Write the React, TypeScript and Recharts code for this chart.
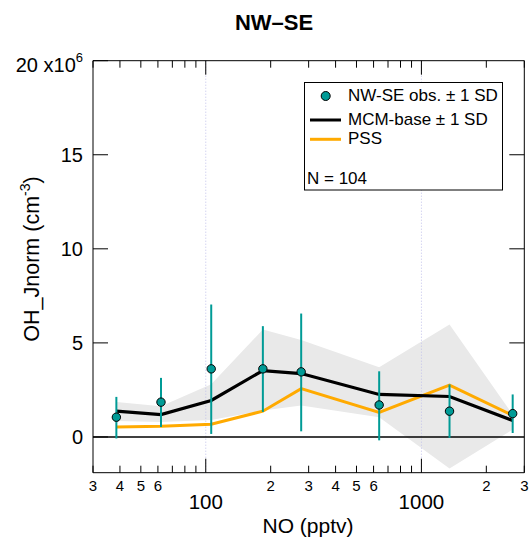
import React from 'react'
import {
  ComposedChart,
  Area,
  Line,
  Scatter,
  ErrorBar,
  XAxis,
  YAxis,
  ReferenceLine,
} from 'recharts'

const FONT = 'Liberation Sans, Arial, Helvetica, sans-serif'
const TEAL = '#009b96'
const ORANGE = '#ffaa00'

// NO bin centres (pptv)
const noValues = [38.5, 62, 106, 184, 277, 637, 1350, 2650]
// observed OH (x10^6 cm-3) and ±1 SD ends
const obs = [1.05, 1.85, 3.62, 3.62, 3.46, 1.7, 1.37, 1.24]
const obsLow = [-0.08, 0.53, 0.16, 1.33, 0.3, -0.18, -0.05, 0.21]
const obsHigh = [2.13, 3.14, 7.04, 5.89, 6.56, 3.49, 2.79, 2.26]
// MCM-base and its ±1 SD band
const mcm = [1.37, 1.19, 1.94, 3.53, 3.37, 2.26, 2.15, 0.87]
const mcmLow = [0.85, 0.8, 0.9, 1.4, 1.67, 1.05, -1.68, 0.39]
const mcmHigh = [1.86, 1.63, 2.8, 5.71, 5.15, 3.71, 5.98, 1.19]
// PSS
const pss = [0.53, 0.57, 0.68, 1.37, 2.57, 1.31, 2.75, 1.15]

const xTicks = [30, 40, 50, 60, 70, 80, 90, 100, 200, 300, 400, 500, 600, 700, 800, 900, 1000, 2000, 3000]
const xMinorLabels: Record<number, string> = {
  30: '3', 40: '4', 50: '5', 60: '6', 200: '2', 300: '3', 400: '4', 500: '5', 600: '6', 2000: '2', 3000: '3',
}
const xMajor = [100, 1000]
const yTicks = [0, 5, 10, 15, 20]
const yTicksRight = [5, 10, 15]

const data = noValues.map((no, i) => ({
  no,
  obs: obs[i],
  obsErr: [obs[i] - obsLow[i], obsHigh[i] - obs[i]],
  mcm: mcm[i],
  band: [mcmLow[i], mcmHigh[i]],
  pss: pss[i],
}))

const BottomTick = (props: any) => {
  const { x, y, payload } = props
  const v = payload.value
  const major = xMajor.includes(v)
  return (
    <g>
      <line x1={x} x2={x} y1={y} y2={y - (major ? 14 : 7)} stroke="#000" strokeWidth={1} />
      {xMinorLabels[v] && (
        <text x={x} y={y + 18.5} textAnchor="middle" fontSize={15} fontFamily={FONT} fill="#000">
          {xMinorLabels[v]}
        </text>
      )}
      {major && (
        <text x={x} y={y + 36.5} textAnchor="middle" fontSize={20.5} fontFamily={FONT} fill="#000">
          {v}
        </text>
      )}
    </g>
  )
}

const TopTick = (props: any) => {
  const { x, y, payload } = props
  const major = xMajor.includes(payload.value)
  return <line x1={x} x2={x} y1={y} y2={y + (major ? 14 : 7)} stroke="#000" strokeWidth={1} />
}

const LeftTick = (props: any) => {
  const { x, y, payload } = props
  const v = payload.value
  return (
    <g>
      <line x1={x} x2={x + 15} y1={y} y2={y} stroke="#000" strokeWidth={1} />
      {v === 20 ? (
        <text x={x - 10} y={y + 11.5} textAnchor="end" fontSize={20} fontFamily={FONT} fill="#000">
          20 x10<tspan dy={-10} fontSize={13}>6</tspan>
        </text>
      ) : (
        <text x={x - 10} y={y + 7} textAnchor="end" fontSize={20} fontFamily={FONT} fill="#000">
          {v}
        </text>
      )}
    </g>
  )
}

const RightTick = (props: any) => {
  const { x, y } = props
  return <line x1={x} x2={x - 15} y1={y} y2={y} stroke="#000" strokeWidth={1} />
}

const Dot = (props: any) => {
  const { cx, cy } = props
  return <circle cx={cx} cy={cy} r={4.2} fill={TEAL} stroke="#000" strokeWidth={1} />
}

export default function App() {
  return (
    <div style={{ position: 'absolute', left: 0, top: 0, width: 532, height: 546, background: '#fff' }}>
      <ComposedChart
        data={data}
        width={532}
        height={546}
        margin={{ top: 59.7, left: 92, right: 6.7, bottom: 72.3 }}
      >
        <XAxis
          dataKey="no"
          type="number"
          scale="log"
          domain={[30, 3000]}
          allowDataOverflow
          ticks={xTicks}
          interval={0}
          height={1}
          tickSize={0}
          tickMargin={0}
          tickLine={false}
          axisLine={{ stroke: '#000', strokeWidth: 1 }}
          tick={<BottomTick />}
        />
        <XAxis
          xAxisId="top"
          orientation="top"
          dataKey="no"
          type="number"
          scale="log"
          domain={[30, 3000]}
          allowDataOverflow
          ticks={xTicks}
          interval={0}
          height={1}
          tickSize={0}
          tickMargin={0}
          tickLine={false}
          axisLine={{ stroke: '#000', strokeWidth: 1 }}
          tick={<TopTick />}
        />
        <YAxis
          type="number"
          domain={[-1.9, 20]}
          allowDataOverflow
          ticks={yTicks}
          interval={0}
          width={1}
          tickSize={0}
          tickMargin={0}
          tickLine={false}
          axisLine={{ stroke: '#000', strokeWidth: 1 }}
          tick={<LeftTick />}
        />
        <YAxis
          yAxisId="right"
          orientation="right"
          type="number"
          domain={[-1.9, 20]}
          allowDataOverflow
          ticks={yTicksRight}
          interval={0}
          width={1}
          tickSize={0}
          tickMargin={0}
          tickLine={false}
          axisLine={{ stroke: '#000', strokeWidth: 1 }}
          tick={<RightTick />}
        />
        <Area
          dataKey="band"
          type="linear"
          fill="#e9e9e9"
          fillOpacity={1}
          stroke="none"
          isAnimationActive={false}
        />
        <ReferenceLine x={100} stroke="#c0c0ea" strokeDasharray="1 2" />
        <ReferenceLine x={1000} stroke="#c0c0ea" strokeDasharray="1 2" />
        <ReferenceLine y={0} stroke="#000" strokeWidth={1.5} />
        <Line dataKey="pss" type="linear" stroke={ORANGE} strokeWidth={3} dot={false} isAnimationActive={false} />
        <Line dataKey="mcm" type="linear" stroke="#000" strokeWidth={3.2} dot={false} isAnimationActive={false} />
        <Scatter dataKey="obs" fill={TEAL} shape={<Dot />} isAnimationActive={false}>
          <ErrorBar dataKey="obsErr" direction="y" width={0} stroke={TEAL} strokeWidth={2} />
        </Scatter>
      </ComposedChart>
      <svg
        width={532}
        height={546}
        style={{ position: 'absolute', left: 0, top: 0, pointerEvents: 'none' }}
        fontFamily={FONT}
      >
        <text x={274} y={29.5} textAnchor="middle" fontSize={22} fontWeight="bold" fill="#000">
          NW–SE
        </text>
        <text transform="translate(38.5, 259) rotate(-90)" textAnchor="middle" fontSize={21.5} fill="#000">
          OH_Jnorm (cm<tspan dy={-9} fontSize={14}>-3</tspan><tspan dy={9}>)</tspan>
        </text>
        <text x={308} y={532.7} textAnchor="middle" fontSize={21} fill="#000">
          NO (pptv)
        </text>
        <rect x={304.5} y={82.5} width={198} height={107.5} fill="#fff" stroke="#000" strokeWidth={1} />
        <circle cx={325.7} cy={96} r={4.5} fill={TEAL} stroke="#000" strokeWidth={1} />
        <text x={348} y={101.3} fontSize={17} fill="#000">NW-SE obs. ± 1 SD</text>
        <line x1={310} x2={341} y1={120} y2={120} stroke="#000" strokeWidth={3} />
        <text x={348} y={125} fontSize={17} fill="#000">MCM-base ± 1 SD</text>
        <line x1={310} x2={341} y1={139.3} y2={139.3} stroke={ORANGE} strokeWidth={3} />
        <text x={348} y={144.3} fontSize={17} fill="#000">PSS</text>
        <text x={307} y={184} fontSize={17} fill="#000">N = 104</text>
      </svg>
    </div>
  )
}
